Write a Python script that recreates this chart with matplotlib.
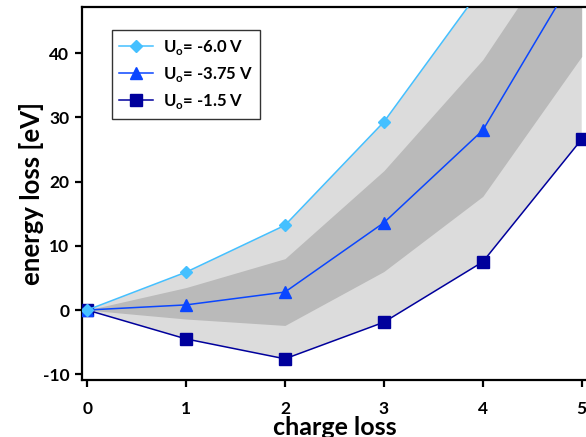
import matplotlib
matplotlib.use("Agg")
import matplotlib.pyplot as plt
import numpy as np

plt.rcParams['font.family'] = ['Lato', 'DejaVu Sans']
plt.rcParams['font.weight'] = 'bold'
plt.rcParams['axes.unicode_minus'] = False
plt.rcParams['mathtext.fontset'] = 'custom'
plt.rcParams['mathtext.bf'] = 'Lato:bold'
plt.rcParams['mathtext.rm'] = 'Lato:bold'

# charge loss
q = [0, 1, 2, 3, 4, 5]
# energy loss [eV] for each retarding voltage
u60 = [0, 5.9, 13.2, 29.3, 50.4, 72.0]
u375 = [0, 0.8, 2.8, 13.6, 28.0, 53.9]
u15 = [0, -4.5, -7.6, -1.9, 7.5, 26.6]
# inner (dark grey) band
band_hi = [0, 3.5, 8.0, 21.7, 39.0, 62.0]
band_lo = [0, -1.4, -2.4, 6.0, 17.7, 39.5]

labels = [r"U$_\mathrm{o}$= -6.0 V", r"U$_\mathrm{o}$= -3.75 V", r"U$_\mathrm{o}$= -1.5 V"]

fig = plt.figure(figsize=(5.86, 4.37), dpi=100)
ax = fig.add_axes([0.1394, 0.1304, 0.887, 0.8536])

ax.fill_between(q, u15, u60, color="#dcdcdc", lw=0, zorder=1)
ax.fill_between(q, band_lo, band_hi, color="#bababa", lw=0, zorder=1.5)

l3, = ax.plot(q, u15, color="#00009c", marker="s", ms=8.5, lw=1.1, zorder=3)
l2, = ax.plot(q, u375, color="#0a46ff", marker="^", ms=9, lw=1.1, zorder=4)
l1, = ax.plot(q, u60, color="#45c0ff", marker="D", ms=6.5, lw=1.1, zorder=5)

ax.set_xlim(-0.055, 5.2)
ax.set_ylim(-10.9, 47.2)
ax.set_xticks(q)
ax.set_yticks([-10, 0, 10, 20, 30, 40])

for s in ["left", "bottom", "top"]:
    ax.spines[s].set_linewidth(1.6)
ax.spines["right"].set_visible(False)
ax.tick_params(direction="out", length=5, width=1.6, labelsize=12.5, pad=4)
ax.tick_params(axis="x", pad=10)

ax.set_xlabel("charge loss", fontsize=18, fontweight="bold")
ax.xaxis.set_label_coords(0.487, -0.096)
ax.set_ylabel("energy loss [eV]", fontsize=18.5, fontweight="bold")
ax.yaxis.set_label_coords(-0.072, 0.5)

leg = ax.legend([l1, l2, l3], labels, loc="upper left", bbox_to_anchor=(0.058, 0.938),
                fontsize=12, frameon=True, fancybox=False, edgecolor="black",
                handlelength=2.0, borderpad=0.45, labelspacing=0.5, handletextpad=0.6,
                borderaxespad=0)
leg.get_frame().set_linewidth(1.0)
for t in leg.get_texts():
    t.set_fontweight("bold")

fig.savefig("out.png", dpi=100)
